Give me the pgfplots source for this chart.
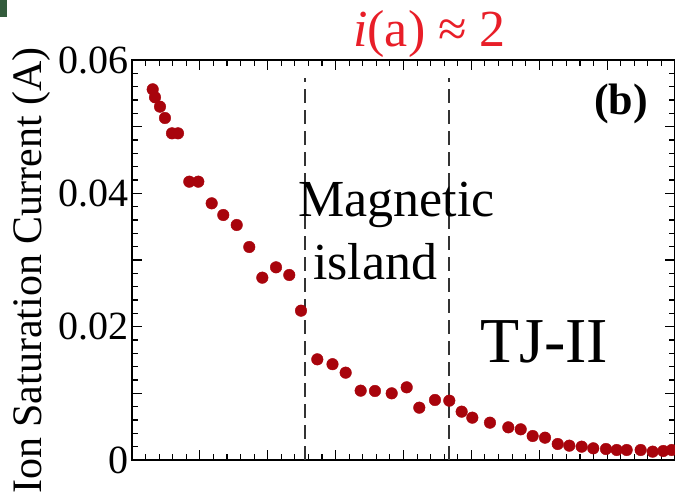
\documentclass[border=0pt]{standalone}
\usepackage{pgfplots}
\pgfplotsset{compat=1.18}
\usepackage{fontspec}
\setmainfont{Liberation Serif}
\definecolor{dotred}{RGB}{168,4,12}
\definecolor{titlered}{RGB}{232,30,40}
\definecolor{cornergreen}{RGB}{52,92,60}

\begin{document}
\begin{tikzpicture}
\begin{axis}[
  at={(0pt,0pt)}, anchor=south west,
  scale only axis, width=543pt, height=400pt,
  xmin=0, xmax=8, ymin=0, ymax=0.06,
  xtick={0,1,...,8}, xticklabels={}, minor x tick num=4,
  ytick={0,0.01,0.02,0.03,0.04,0.05,0.06},
  yticklabels={0,,0.02,,0.04,,0.06},
  scaled y ticks=false,
  minor y tick num=4,
  tick align=inside,
  major tick length=10pt, minor tick length=6pt,
  axis line style={line width=1.3pt},
  every tick/.style={black, line width=1.1pt},
  /pgf/number format/assume math mode=true,
  yticklabel style={font=\fontsize{40}{40}\selectfont, inner xsep=3pt},
  clip=false,
]
\addplot[only marks, mark=*, mark size=5.8pt, color=dotred] coordinates {
  (0.305,0.0556) (0.339,0.0544) (0.4125,0.0530) (0.486,0.0513)
  (0.589,0.0490) (0.678,0.0490) (0.844,0.04175) (0.977,0.04175)
  (1.174,0.0385) (1.345,0.03675) (1.543,0.03525) (1.728,0.03195)
  (1.920,0.02735) (2.122,0.0289) (2.317,0.02775) (2.490,0.0224)
  (2.730,0.0151) (2.954,0.01437) (3.148,0.0131) (3.369,0.0104)
  (3.580,0.01035) (3.826,0.0100) (4.047,0.0109) (4.233,0.00785)
  (4.464,0.0090) (4.675,0.0089) (4.857,0.00725) (5.014,0.00635)
  (5.274,0.0056) (5.544,0.0049) (5.727,0.0046) (5.903,0.0036)
  (6.085,0.00335) (6.272,0.0024) (6.443,0.00215) (6.625,0.0020)
  (6.796,0.00175) (6.983,0.00165) (7.141,0.0015) (7.288,0.0015)
  (7.494,0.0015) (7.671,0.00125) (7.828,0.00135) (7.951,0.0015)
};
% island boundaries
\draw[black!80, line width=1.2pt, dash pattern=on 14pt off 7pt]
  (axis cs:2.549,0) -- (axis cs:2.549,0.0573);
\draw[black!80, line width=1.2pt, dash pattern=on 14pt off 7pt]
  (axis cs:4.670,0) -- (axis cs:4.670,0.0573);
\end{axis}
% annotations (pt, axis lower-left at origin)
\node[anchor=base west, inner sep=0pt, text=titlered, font=\fontsize{52}{52}\selectfont]
  at (221pt,413pt) {\textit{i}(a) ≈ 2};
\node[anchor=base west, inner sep=0pt, font=\fontsize{52}{52}\selectfont] at (166pt,243pt) {Magnetic};
\node[anchor=base west, inner sep=0pt, font=\fontsize{52}{52}\selectfont] at (181pt,180pt) {island};
\node[anchor=base west, inner sep=0pt, font=\fontsize{64}{64}\selectfont] at (348pt,97pt) {TJ-II};
\node[anchor=base east, inner sep=0pt, font=\fontsize{44}{44}\selectfont\bfseries] at (516pt,345pt) {(b)};
\node[rotate=90, anchor=east, inner sep=0pt, font=\fontsize{42}{42}\selectfont] at (-101pt,413pt)
  {Ion Saturation Current (A)};
\fill[cornergreen] (-132pt,443pt) rectangle (-125pt,460pt);
\pgfresetboundingbox
\path[use as bounding box] (-132pt,-35pt) rectangle (543pt,460pt);
\end{tikzpicture}
\end{document}
